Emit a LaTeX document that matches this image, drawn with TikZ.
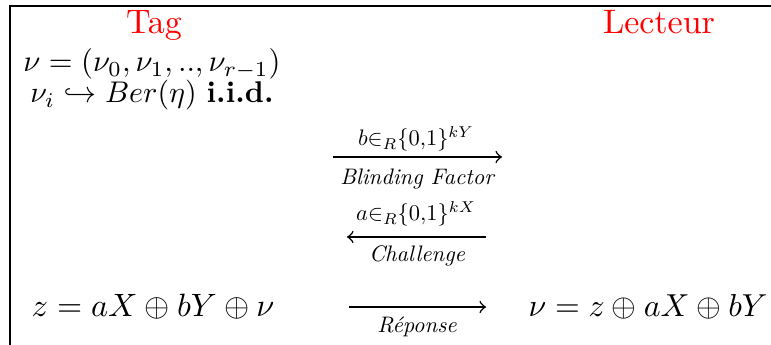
\documentclass[tikz,border=0pt]{standalone}
\usepackage{amsmath,amssymb,graphicx}
\begin{document}
\begin{tikzpicture}[x=0.2941pt,y=-0.2941pt,
  txt/.style={inner sep=0pt,anchor=base},
  role/.style={txt,text=red},
  lbl/.style={txt},
  msg/.style={->,line width=0.45pt}]
\useasboundingbox (0,0) rectangle (771,345);
\draw[line width=0.5pt] (10,345) -- (10,6) -- (771,6);
% headers
\node[role] (tag) at (154,34) {Tag};
\node[role] (lec) at (659,34) {Lecteur};
% tag side
\node[txt] (nu) at (152,72) {\scalebox{0.9}{$\nu=(\nu_0,\nu_1,..,\nu_{r-1})$}};
\node[txt] (ber) at (152,103) {\scalebox{0.88}{$\nu_i\hookrightarrow Ber(\eta)$ \textbf{i.i.d.}}};
% message 1
\coordinate (m1s) at (333,157);
\coordinate (m1e) at (502,157);
\draw[msg] (m1s) -- (m1e);
\node[lbl] (m1a) at (416,146) {\scalebox{0.66}{$b{\in}_R\{0{,}1\}^{kY}$}};
\node[lbl] (m1b) at (417,185) {\scalebox{0.66}{\itshape Blinding Factor}};
% message 2
\coordinate (m2s) at (486,237);
\coordinate (m2e) at (347,237);
\draw[msg] (m2s) -- (m2e);
\node[lbl] (m2a) at (416,221) {\scalebox{0.66}{$a{\in}_R\{0{,}1\}^{kX}$}};
\node[lbl] (m2b) at (417,262) {\scalebox{0.66}{\itshape Challenge}};
% message 3
\coordinate (m3s) at (349,307);
\coordinate (m3e) at (486,307);
\draw[msg] (m3s) -- (m3e);
\node[lbl] (m3b) at (417,333) {\scalebox{0.66}{\itshape Réponse}};
% bottom equations
\node[txt] (z) at (153,317) {\scalebox{0.95}{$z=aX\oplus bY\oplus\nu$}};
\node[txt] (nu2) at (648,317) {\scalebox{0.935}{$\nu=z\oplus aX\oplus bY$}};
\end{tikzpicture}
\end{document}
